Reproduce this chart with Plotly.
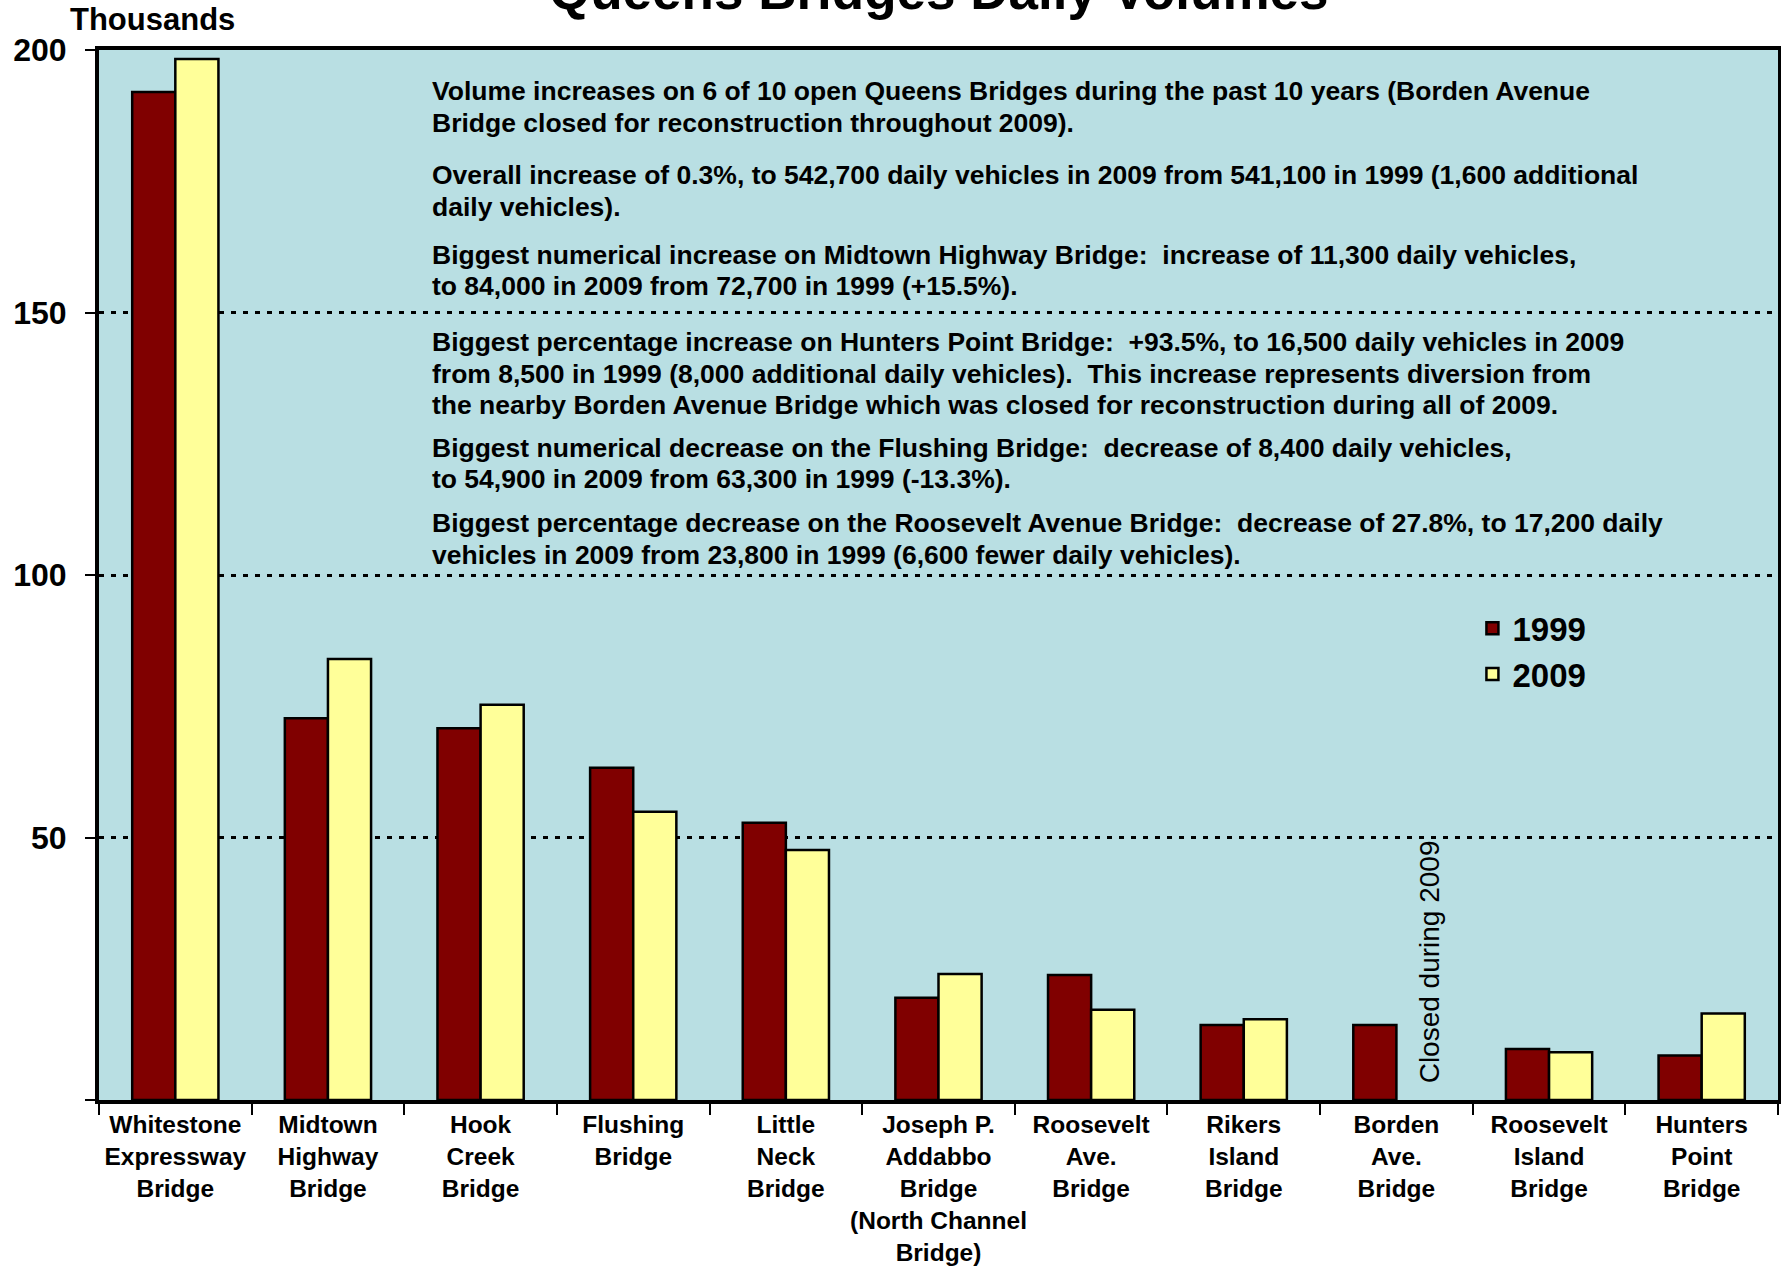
import plotly.graph_objects as go

categories = [
    "Whitestone<br>Expressway<br>Bridge",
    "Midtown<br>Highway<br>Bridge",
    "Hook<br>Creek<br>Bridge",
    "Flushing<br>Bridge",
    "Little<br>Neck<br>Bridge",
    "Joseph P.<br>Addabbo<br>Bridge<br>(North Channel<br>Bridge)",
    "Roosevelt<br>Ave.<br>Bridge",
    "Rikers<br>Island<br>Bridge",
    "Borden<br>Ave.<br>Bridge",
    "Roosevelt<br>Island<br>Bridge",
    "Hunters<br>Point<br>Bridge",
]
vol_1999 = [192.0, 72.7, 70.8, 63.3, 52.8, 19.5, 23.8, 14.3, 14.3, 9.7, 8.5]
vol_2009 = [198.3, 84.0, 75.3, 54.9, 47.6, 24.0, 17.2, 15.4, None, 9.1, 16.5]

y_tick_vals = [0, 50, 100, 150, 200]
y_tick_labels = ["", "50", "100", "150", "200"]

note_lines = [
    "Volume increases on 6 of 10 open Queens Bridges during the past 10 years (Borden Avenue",
    "Bridge closed for reconstruction throughout 2009).",
    "Overall increase of 0.3%, to 542,700 daily vehicles in 2009 from 541,100 in 1999 (1,600 additional",
    "daily vehicles).",
    "Biggest numerical increase on Midtown Highway Bridge:  increase of 11,300 daily vehicles,",
    "to 84,000 in 2009 from 72,700 in 1999 (+15.5%).",
    "Biggest percentage increase on Hunters Point Bridge:  +93.5%, to 16,500 daily vehicles in 2009",
    "from 8,500 in 1999 (8,000 additional daily vehicles).  This increase represents diversion from",
    "the nearby Borden Avenue Bridge which was closed for reconstruction during all of 2009.",
    "Biggest numerical decrease on the Flushing Bridge:  decrease of 8,400 daily vehicles,",
    "to 54,900 in 2009 from 63,300 in 1999 (-13.3%).",
    "Biggest percentage decrease on the Roosevelt Avenue Bridge:  decrease of 27.8%, to 17,200 daily",
    "vehicles in 2009 from 23,800 in 1999 (6,600 fewer daily vehicles).",
]
note_y = [192.2, 186.1, 176.2, 170.1, 161.0, 155.0, 144.4, 138.3, 132.3, 124.2, 118.2, 110.0, 103.9]

FONT = "Liberation Sans, Arial, sans-serif"

fig = go.Figure()
fig.add_trace(go.Bar(
    x=categories, y=vol_1999, name="1999",
    marker=dict(color="#800000", line=dict(color="black", width=2.5)),
))
fig.add_trace(go.Bar(
    x=categories, y=vol_2009, name="2009",
    marker=dict(color="#FFFF99", line=dict(color="black", width=2.5)),
))

annotations = []
for txt, yv in zip(note_lines, note_y):
    annotations.append(dict(
        text="<b>" + txt.replace("  ", "&nbsp; ") + "</b>", x=0.197, xref="paper", y=yv, yref="y",
        xanchor="left", yanchor="middle", showarrow=False,
        font=dict(family=FONT, size=26.5, color="black"),
    ))
annotations.append(dict(
    text="Closed during 2009", x=8, xref="x", y=26.3, yref="y", xshift=34,
    textangle=-90, showarrow=False, xanchor="center", yanchor="middle",
    font=dict(family=FONT, size=28, color="black"),
))
annotations.append(dict(
    text="<b>Thousands</b>", x=0.0316, xref="paper", y=1.029, yref="paper",
    xanchor="center", yanchor="middle", showarrow=False,
    font=dict(family=FONT, size=31, color="black"),
))
annotations.append(dict(
    text="<b>Queens Bridges Daily Volumes</b>", x=0.5, xref="paper", y=1.057, yref="paper",
    xanchor="center", yanchor="middle", showarrow=False,
    font=dict(family=FONT, size=53, color="black"),
))

fig.update_layout(
    width=1781, height=1269,
    margin=dict(l=99, r=3, t=50, b=169, pad=0),
    paper_bgcolor="white",
    plot_bgcolor="#B9DFE3",
    barmode="group",
    bargap=0.435,
    bargroupgap=0,
    font=dict(family=FONT, color="black"),
    annotations=annotations,
    legend=dict(
        x=0.818, y=0.476, xanchor="left", yanchor="top",
        bgcolor="rgba(0,0,0,0)",
        font=dict(family=FONT, size=33, color="black", weight="bold"),
        tracegroupgap=0,
    ),
    xaxis=dict(
        type="category", tickson="boundaries", ticks="outside", ticklen=11,
        tickwidth=2, tickcolor="black", showline=True, linewidth=4, linecolor="black",
        mirror=True, showgrid=False, tickangle=0, automargin=False,
        tickfont=dict(family=FONT, size=24.5, color="black", weight="bold"),
    ),
    yaxis=dict(
        range=[0, 200], tickvals=y_tick_vals, ticktext=y_tick_labels,
        ticks="outside", ticklen=10, tickwidth=2, tickcolor="black",
        showline=True, linewidth=4, linecolor="black", mirror=True,
        showgrid=True, gridcolor="black", gridwidth=3, griddash="5px,7px",
        zeroline=False, automargin=False,
        tickfont=dict(family=FONT, size=32, color="black", weight="bold"),
        ticklabelstandoff=12,
    ),
)

fig.write_html("out.html", config={"displayModeBar": False},
               post_script="document.body.style.margin='0';")
